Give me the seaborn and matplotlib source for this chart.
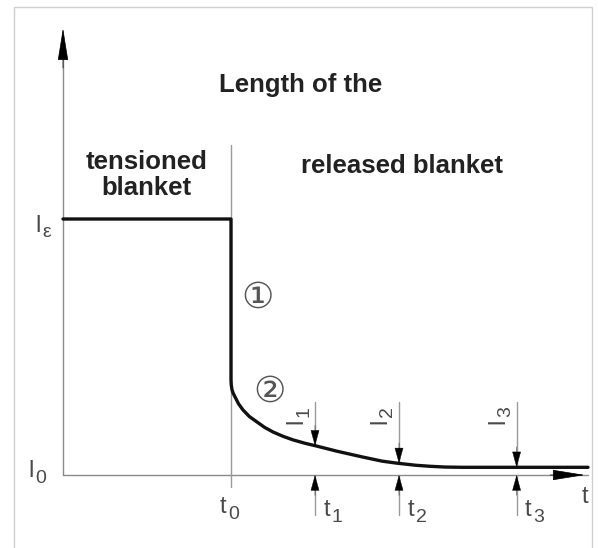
import matplotlib
matplotlib.use("Agg")
import matplotlib.pyplot as plt
from matplotlib.patches import Rectangle
import seaborn as sns
import pandas as pd

# ---- data ----
t_curve = [0.0, 2.0, 2.0, 2.003, 2.012, 2.025, 2.048, 2.09, 2.143, 2.22, 2.31, 2.4, 2.5,
           2.62, 2.74, 2.88, 3.02, 3.26, 3.57, 3.8, 3.98, 4.2, 4.37, 4.55, 4.76, 6.25]
l_curve = [10.0, 10.0, 3.71, 3.52, 3.33, 3.2, 3.05, 2.78, 2.54, 2.28, 2.07, 1.86, 1.68,
           1.51, 1.37, 1.24, 1.13, 0.93, 0.70, 0.54, 0.46, 0.38, 0.34, 0.31, 0.30, 0.30]
t_zero = 2.0
t_marks = [3.0, 4.0, 5.4]
l_marks = [1.14, 0.45, 0.30]
mark_subs = ["1", "2", "3"]
l_s = 10.0
l_0 = 0.30

sns.set_theme(style="white")
plt.rcParams["font.family"] = ["Liberation Sans", "DejaVu Sans"]

fig = plt.figure(figsize=(5.98, 5.48), dpi=100)
fig.patch.set_facecolor("white")
ax = fig.add_axes([0, 0, 1, 1])
ax.set_xlim(-0.75, 6.369)
ax.set_ylim(-2.852, 18.555)
ax.axis("off")

# outer light frame
fig.patches.append(Rectangle((14 / 598, -0.02), 578 / 598, 1 - 7 / 548 + 0.02,
                             transform=fig.transFigure, fill=False,
                             edgecolor="#cfcfcf", linewidth=1.0, zorder=0))

axis_col = "#8a8a8a"
thin_col = "#9a9a9a"
txt_col = "#4a4a4a"
bold_col = "#222222"
MAIN_FS = 17
SUB_FS = 14


def sub_label(x, y, main, sub, rotated=False, dx=6.0, dy=-4.3):
    """Letter with a subscript; (x, y) is the left/baseline of the letter."""
    rot = 90 if rotated else 0
    ax.text(x, y, main, ha="left", va="baseline", fontsize=MAIN_FS, color=txt_col,
            rotation=rot, rotation_mode="anchor")
    off = (-dy, dx) if rotated else (dx, dy)
    ax.annotate(sub, xy=(x, y), xytext=off, textcoords="offset points",
                ha="left", va="baseline", fontsize=SUB_FS, color=txt_col,
                rotation=rot, rotation_mode="anchor")


# axes lines
ax.plot([0, 0], [0, 17.2], color=axis_col, lw=1.0, zorder=1)
ax.plot([0, 6.25], [0, 0], color=axis_col, lw=1.0, zorder=1)
# arrow heads of axes
ax.annotate("", xy=(0, 17.45), xytext=(0, 15.9),
            arrowprops=dict(arrowstyle="-|>,head_length=21,head_width=3.4",
                            mutation_scale=1, color="black", lw=0.5, shrinkA=0, shrinkB=0))
ax.annotate("", xy=(6.21, 0.0), xytext=(5.8, 0.0),
            arrowprops=dict(arrowstyle="-|>,head_length=21,head_width=3.4",
                            mutation_scale=1, color="black", lw=0.5, shrinkA=0, shrinkB=0))

# thin vertical at t0
ax.plot([t_zero, t_zero], [-0.47, 12.9], color=thin_col, lw=1.0, zorder=1)

# curve
df = pd.DataFrame({"t": t_curve, "l": l_curve})
sns.lineplot(data=df, x="t", y="l", sort=False, estimator=None, ax=ax,
             color="#111111", linewidth=2.4, zorder=3)
ax.set_xlabel("")
ax.set_ylabel("")

# mark arrows at t1..t3
for tm, lm, s in zip(t_marks, l_marks, mark_subs):
    ax.plot([tm, tm], [lm, 2.85], color=thin_col, lw=1.0, zorder=2)
    ax.annotate("", xy=(tm, lm), xytext=(tm, lm + 0.8),
                arrowprops=dict(arrowstyle="-|>,head_length=10.5,head_width=2.9",
                                mutation_scale=1, color="black", lw=0.3, shrinkA=0, shrinkB=0),
                zorder=4)
    ax.plot([tm, tm], [-1.56, 0], color=thin_col, lw=1.0, zorder=2)
    ax.annotate("", xy=(tm, 0.0), xytext=(tm, -0.8),
                arrowprops=dict(arrowstyle="-|>,head_length=10.5,head_width=2.9",
                                mutation_scale=1, color="black", lw=0.3, shrinkA=0, shrinkB=0),
                zorder=4)
    sub_label(tm + 0.1, -1.6, "t", s)
    sub_label(tm - 0.15, 2.0, "l", s, rotated=True, dx=5.0)

# axis labels
sub_label(t_zero - 0.13, -1.48, "t", "0")
ax.text(6.17, -1.08, "t", ha="left", va="baseline", fontsize=MAIN_FS, color=txt_col)
sub_label(-0.41, -0.08, "l", "0", dx=5.0)
sub_label(-0.33, l_s - 0.5, "l", "\u03b5", dx=5.0, dy=-3.5)

# headings
ax.text(2.83, 14.96, "Length of the", ha="center", va="baseline",
        fontsize=18.5, fontweight="bold", color=bold_col)
ax.text(0.99, 10.94, "tensioned\nblanket", ha="center", va="baseline",
        fontsize=18.5, fontweight="bold", color=bold_col, linespacing=1.08,
        multialignment="center")
ax.text(4.04, 11.8, "released blanket", ha="center", va="baseline",
        fontsize=18.5, fontweight="bold", color=bold_col)

# circled phase numbers
ax.text(2.32, 6.91, "\u2460", ha="center", va="center", fontsize=26,
        color="#555555", family=["DejaVu Sans", "Noto Sans CJK SC"])
ax.text(2.46, 3.24, "\u2461", ha="center", va="center", fontsize=26,
        color="#555555", family=["DejaVu Sans", "Noto Sans CJK SC"])

fig.savefig("out.png", dpi=100, facecolor="white")
